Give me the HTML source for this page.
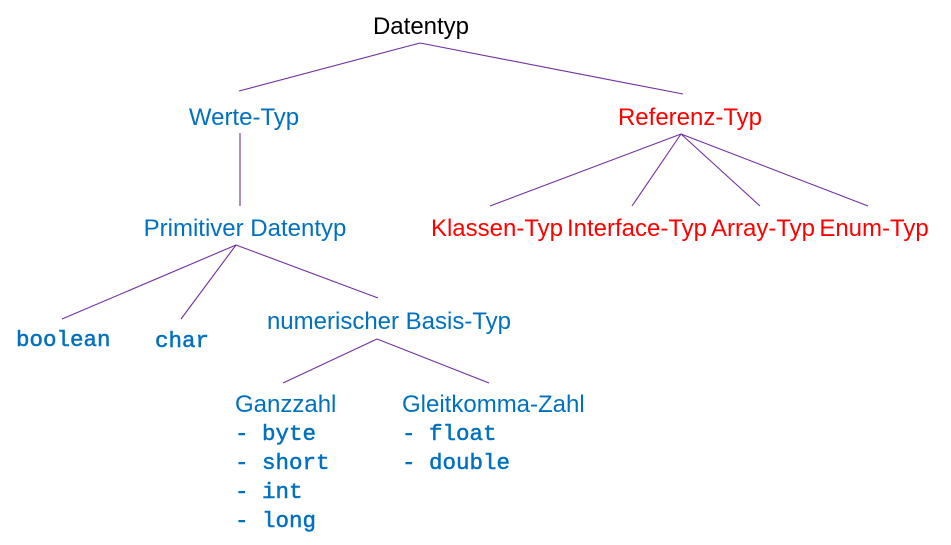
<!DOCTYPE html>
<html><head><meta charset="utf-8"><style>
html,body{margin:0;padding:0;background:#fff;}
svg{display:block;}
.s{font-family:"Liberation Sans",sans-serif;font-size:24px;}
.m{font-family:"Liberation Mono",monospace;font-size:22.5px;fill:#0070C0;stroke:#0070C0;stroke-width:0.5;}
.b{fill:#0070C0}.r{fill:#FF0000}
line{stroke:#7030A0;stroke-width:1.1}
</style></head><body>
<svg width="951" height="545" viewBox="0 0 951 545">
<line x1="420" y1="43" x2="239" y2="91"/>
<line x1="420" y1="43" x2="683" y2="94"/>
<line x1="240" y1="133" x2="240" y2="206"/>
<line x1="681" y1="134" x2="490" y2="206"/>
<line x1="681" y1="134" x2="632" y2="206"/>
<line x1="681" y1="134" x2="760" y2="206"/>
<line x1="681" y1="134" x2="868" y2="206"/>
<line x1="236" y1="245" x2="62" y2="319"/>
<line x1="236" y1="245" x2="181" y2="319"/>
<line x1="236" y1="245" x2="378" y2="298"/>
<line x1="377" y1="339" x2="283" y2="383"/>
<line x1="377" y1="339" x2="489" y2="383"/>
<text class="s" x="421" y="34" text-anchor="middle" fill="#000">Datentyp</text>
<text class="s b" x="244" y="125" text-anchor="middle">Werte-Typ</text>
<text class="s r" x="690" y="125" text-anchor="middle">Referenz-Typ</text>
<text class="s b" x="245" y="236" text-anchor="middle">Primitiver Datentyp</text>
<text class="s r" x="497" y="236" text-anchor="middle">Klassen-Typ</text>
<text class="s r" x="637" y="236" text-anchor="middle">Interface-Typ</text>
<text class="s r" x="763" y="236" text-anchor="middle">Array-Typ</text>
<text class="s r" x="874" y="236" text-anchor="middle">Enum-Typ</text>
<text class="s b" x="389" y="329" text-anchor="middle">numerischer Basis-Typ</text>
<text class="m" x="16" y="346">boolean</text>
<text class="m" x="155" y="347">char</text>
<text class="s b" x="235" y="412">Ganzzahl</text>
<text class="s b" x="402" y="412">Gleitkomma-Zahl</text>
<text class="m" x="235" y="440" xml:space="preserve">- byte</text>
<text class="m" x="235" y="469" xml:space="preserve">- short</text>
<text class="m" x="235" y="498" xml:space="preserve">- int</text>
<text class="m" x="235" y="527" xml:space="preserve">- long</text>
<text class="m" x="402" y="440" xml:space="preserve">- float</text>
<text class="m" x="402" y="469" xml:space="preserve">- double</text>
</svg>
</body></html>
